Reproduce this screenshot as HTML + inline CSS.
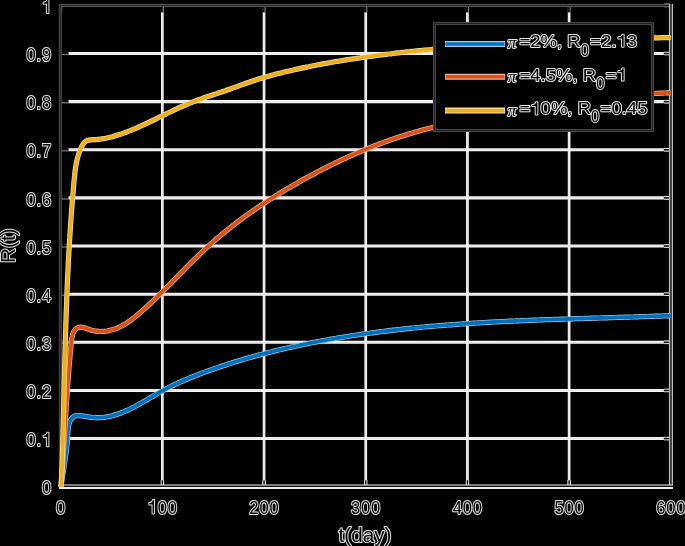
<!DOCTYPE html>
<html><head><meta charset="utf-8"><style>
html,body{margin:0;padding:0;background:#000;width:685px;height:546px;overflow:hidden}
svg{display:block;position:absolute;left:0;top:0}
.tx{filter:grayscale(1)}
.t{font-family:"Liberation Sans",sans-serif;font-size:18px;fill:#000;stroke:#e6e6e6;stroke-width:2px;paint-order:stroke fill;stroke-linejoin:round}
.lg{font-size:17.3px}
.ax{font-size:20.7px}
.pi{font-family:"Liberation Serif",serif;font-style:italic;font-size:16px}
.sub{font-size:15.3px}
.one{fill-opacity:0;stroke-opacity:0}
.onep{fill:#000;stroke:#e6e6e6;stroke-width:2px;paint-order:stroke fill;stroke-linejoin:round}
</style></head><body>
<svg width="685" height="546" viewBox="0 0 685 546">
<rect width="685" height="546" fill="#000"/>
<line x1="162.36" y1="6" x2="162.36" y2="486" stroke="#fafafa" stroke-width="2.7"/>
<line x1="162.36" y1="6" x2="162.36" y2="486" stroke="#e2e2e2" stroke-width="1.2"/>
<line x1="264.05" y1="6" x2="264.05" y2="486" stroke="#fafafa" stroke-width="2.7"/>
<line x1="264.05" y1="6" x2="264.05" y2="486" stroke="#e2e2e2" stroke-width="1.2"/>
<line x1="365.74" y1="6" x2="365.74" y2="486" stroke="#fafafa" stroke-width="2.7"/>
<line x1="365.74" y1="6" x2="365.74" y2="486" stroke="#e2e2e2" stroke-width="1.2"/>
<line x1="467.43" y1="6" x2="467.43" y2="486" stroke="#fafafa" stroke-width="2.7"/>
<line x1="467.43" y1="6" x2="467.43" y2="486" stroke="#e2e2e2" stroke-width="1.2"/>
<line x1="569.12" y1="6" x2="569.12" y2="486" stroke="#fafafa" stroke-width="2.7"/>
<line x1="569.12" y1="6" x2="569.12" y2="486" stroke="#e2e2e2" stroke-width="1.2"/>
<line x1="61" y1="438.57" x2="670" y2="438.57" stroke="#fafafa" stroke-width="3.1"/>
<line x1="61" y1="438.57" x2="670" y2="438.57" stroke="#e2e2e2" stroke-width="1.2"/>
<line x1="61" y1="390.44" x2="670" y2="390.44" stroke="#fafafa" stroke-width="3.1"/>
<line x1="61" y1="390.44" x2="670" y2="390.44" stroke="#e2e2e2" stroke-width="1.2"/>
<line x1="61" y1="342.31" x2="670" y2="342.31" stroke="#fafafa" stroke-width="3.1"/>
<line x1="61" y1="342.31" x2="670" y2="342.31" stroke="#e2e2e2" stroke-width="1.2"/>
<line x1="61" y1="294.18" x2="670" y2="294.18" stroke="#fafafa" stroke-width="3.1"/>
<line x1="61" y1="294.18" x2="670" y2="294.18" stroke="#e2e2e2" stroke-width="1.2"/>
<line x1="61" y1="246.05" x2="670" y2="246.05" stroke="#fafafa" stroke-width="3.1"/>
<line x1="61" y1="246.05" x2="670" y2="246.05" stroke="#e2e2e2" stroke-width="1.2"/>
<line x1="61" y1="197.92" x2="670" y2="197.92" stroke="#fafafa" stroke-width="3.1"/>
<line x1="61" y1="197.92" x2="670" y2="197.92" stroke="#e2e2e2" stroke-width="1.2"/>
<line x1="61" y1="149.79" x2="670" y2="149.79" stroke="#fafafa" stroke-width="3.1"/>
<line x1="61" y1="149.79" x2="670" y2="149.79" stroke="#e2e2e2" stroke-width="1.2"/>
<line x1="61" y1="101.66" x2="670" y2="101.66" stroke="#fafafa" stroke-width="3.1"/>
<line x1="61" y1="101.66" x2="670" y2="101.66" stroke="#e2e2e2" stroke-width="1.2"/>
<line x1="61" y1="53.53" x2="670" y2="53.53" stroke="#fafafa" stroke-width="3.1"/>
<line x1="61" y1="53.53" x2="670" y2="53.53" stroke="#e2e2e2" stroke-width="1.2"/>
<line x1="61.5" y1="486.70" x2="68.5" y2="486.70" stroke="#0c0c0c" stroke-width="3.8"/>
<line x1="61.5" y1="487.70" x2="68.5" y2="487.70" stroke="#777" stroke-width="1.1"/>
<line x1="664" y1="486.70" x2="669.5" y2="486.70" stroke="#e0e0e0" stroke-width="3.6"/>
<line x1="663.8" y1="486.70" x2="669.5" y2="486.70" stroke="#111" stroke-width="1.6"/>
<line x1="61.5" y1="438.57" x2="68.5" y2="438.57" stroke="#0c0c0c" stroke-width="3.8"/>
<line x1="61.5" y1="439.57" x2="68.5" y2="439.57" stroke="#777" stroke-width="1.1"/>
<line x1="664" y1="438.57" x2="669.5" y2="438.57" stroke="#e0e0e0" stroke-width="3.6"/>
<line x1="663.8" y1="438.57" x2="669.5" y2="438.57" stroke="#111" stroke-width="1.6"/>
<line x1="61.5" y1="390.44" x2="68.5" y2="390.44" stroke="#0c0c0c" stroke-width="3.8"/>
<line x1="61.5" y1="391.44" x2="68.5" y2="391.44" stroke="#777" stroke-width="1.1"/>
<line x1="664" y1="390.44" x2="669.5" y2="390.44" stroke="#e0e0e0" stroke-width="3.6"/>
<line x1="663.8" y1="390.44" x2="669.5" y2="390.44" stroke="#111" stroke-width="1.6"/>
<line x1="61.5" y1="342.31" x2="68.5" y2="342.31" stroke="#0c0c0c" stroke-width="3.8"/>
<line x1="61.5" y1="343.31" x2="68.5" y2="343.31" stroke="#777" stroke-width="1.1"/>
<line x1="664" y1="342.31" x2="669.5" y2="342.31" stroke="#e0e0e0" stroke-width="3.6"/>
<line x1="663.8" y1="342.31" x2="669.5" y2="342.31" stroke="#111" stroke-width="1.6"/>
<line x1="61.5" y1="294.18" x2="68.5" y2="294.18" stroke="#0c0c0c" stroke-width="3.8"/>
<line x1="61.5" y1="295.18" x2="68.5" y2="295.18" stroke="#777" stroke-width="1.1"/>
<line x1="664" y1="294.18" x2="669.5" y2="294.18" stroke="#e0e0e0" stroke-width="3.6"/>
<line x1="663.8" y1="294.18" x2="669.5" y2="294.18" stroke="#111" stroke-width="1.6"/>
<line x1="61.5" y1="246.05" x2="68.5" y2="246.05" stroke="#0c0c0c" stroke-width="3.8"/>
<line x1="61.5" y1="247.05" x2="68.5" y2="247.05" stroke="#777" stroke-width="1.1"/>
<line x1="664" y1="246.05" x2="669.5" y2="246.05" stroke="#e0e0e0" stroke-width="3.6"/>
<line x1="663.8" y1="246.05" x2="669.5" y2="246.05" stroke="#111" stroke-width="1.6"/>
<line x1="61.5" y1="197.92" x2="68.5" y2="197.92" stroke="#0c0c0c" stroke-width="3.8"/>
<line x1="61.5" y1="198.92" x2="68.5" y2="198.92" stroke="#777" stroke-width="1.1"/>
<line x1="664" y1="197.92" x2="669.5" y2="197.92" stroke="#e0e0e0" stroke-width="3.6"/>
<line x1="663.8" y1="197.92" x2="669.5" y2="197.92" stroke="#111" stroke-width="1.6"/>
<line x1="61.5" y1="149.79" x2="68.5" y2="149.79" stroke="#0c0c0c" stroke-width="3.8"/>
<line x1="61.5" y1="150.79" x2="68.5" y2="150.79" stroke="#777" stroke-width="1.1"/>
<line x1="664" y1="149.79" x2="669.5" y2="149.79" stroke="#e0e0e0" stroke-width="3.6"/>
<line x1="663.8" y1="149.79" x2="669.5" y2="149.79" stroke="#111" stroke-width="1.6"/>
<line x1="61.5" y1="101.66" x2="68.5" y2="101.66" stroke="#0c0c0c" stroke-width="3.8"/>
<line x1="61.5" y1="102.66" x2="68.5" y2="102.66" stroke="#777" stroke-width="1.1"/>
<line x1="664" y1="101.66" x2="669.5" y2="101.66" stroke="#e0e0e0" stroke-width="3.6"/>
<line x1="663.8" y1="101.66" x2="669.5" y2="101.66" stroke="#111" stroke-width="1.6"/>
<line x1="61.5" y1="53.53" x2="68.5" y2="53.53" stroke="#0c0c0c" stroke-width="3.8"/>
<line x1="61.5" y1="54.53" x2="68.5" y2="54.53" stroke="#777" stroke-width="1.1"/>
<line x1="664" y1="53.53" x2="669.5" y2="53.53" stroke="#e0e0e0" stroke-width="3.6"/>
<line x1="663.8" y1="53.53" x2="669.5" y2="53.53" stroke="#111" stroke-width="1.6"/>
<line x1="61.5" y1="5.40" x2="68.5" y2="5.40" stroke="#0c0c0c" stroke-width="3.8"/>
<line x1="61.5" y1="6.40" x2="68.5" y2="6.40" stroke="#777" stroke-width="1.1"/>
<line x1="664" y1="5.40" x2="669.5" y2="5.40" stroke="#e0e0e0" stroke-width="3.6"/>
<line x1="663.8" y1="5.40" x2="669.5" y2="5.40" stroke="#111" stroke-width="1.6"/>
<line x1="60.67" y1="6" x2="60.67" y2="12.3" stroke="#0c0c0c" stroke-width="3.6"/>
<line x1="61.67" y1="6" x2="61.67" y2="12.3" stroke="#777" stroke-width="1.1"/>
<line x1="60.67" y1="480" x2="60.67" y2="486" stroke="#e0e0e0" stroke-width="3.4"/>
<line x1="60.67" y1="480.2" x2="60.67" y2="486" stroke="#111" stroke-width="1.4"/>
<line x1="162.36" y1="6" x2="162.36" y2="12.3" stroke="#0c0c0c" stroke-width="3.6"/>
<line x1="163.36" y1="6" x2="163.36" y2="12.3" stroke="#777" stroke-width="1.1"/>
<line x1="162.36" y1="480" x2="162.36" y2="486" stroke="#e0e0e0" stroke-width="3.4"/>
<line x1="162.36" y1="480.2" x2="162.36" y2="486" stroke="#111" stroke-width="1.4"/>
<line x1="264.05" y1="6" x2="264.05" y2="12.3" stroke="#0c0c0c" stroke-width="3.6"/>
<line x1="265.05" y1="6" x2="265.05" y2="12.3" stroke="#777" stroke-width="1.1"/>
<line x1="264.05" y1="480" x2="264.05" y2="486" stroke="#e0e0e0" stroke-width="3.4"/>
<line x1="264.05" y1="480.2" x2="264.05" y2="486" stroke="#111" stroke-width="1.4"/>
<line x1="365.74" y1="6" x2="365.74" y2="12.3" stroke="#0c0c0c" stroke-width="3.6"/>
<line x1="366.74" y1="6" x2="366.74" y2="12.3" stroke="#777" stroke-width="1.1"/>
<line x1="365.74" y1="480" x2="365.74" y2="486" stroke="#e0e0e0" stroke-width="3.4"/>
<line x1="365.74" y1="480.2" x2="365.74" y2="486" stroke="#111" stroke-width="1.4"/>
<line x1="467.43" y1="6" x2="467.43" y2="12.3" stroke="#0c0c0c" stroke-width="3.6"/>
<line x1="468.43" y1="6" x2="468.43" y2="12.3" stroke="#777" stroke-width="1.1"/>
<line x1="467.43" y1="480" x2="467.43" y2="486" stroke="#e0e0e0" stroke-width="3.4"/>
<line x1="467.43" y1="480.2" x2="467.43" y2="486" stroke="#111" stroke-width="1.4"/>
<line x1="569.12" y1="6" x2="569.12" y2="12.3" stroke="#0c0c0c" stroke-width="3.6"/>
<line x1="570.12" y1="6" x2="570.12" y2="12.3" stroke="#777" stroke-width="1.1"/>
<line x1="569.12" y1="480" x2="569.12" y2="486" stroke="#e0e0e0" stroke-width="3.4"/>
<line x1="569.12" y1="480.2" x2="569.12" y2="486" stroke="#111" stroke-width="1.4"/>
<line x1="670.80" y1="6" x2="670.80" y2="12.3" stroke="#0c0c0c" stroke-width="3.6"/>
<line x1="671.80" y1="6" x2="671.80" y2="12.3" stroke="#777" stroke-width="1.1"/>
<line x1="670.80" y1="480" x2="670.80" y2="486" stroke="#e0e0e0" stroke-width="3.4"/>
<line x1="670.80" y1="480.2" x2="670.80" y2="486" stroke="#111" stroke-width="1.4"/>
<line x1="59" y1="5.5" x2="672" y2="5.5" stroke="#5a5a5a" stroke-width="3.2"/>
<line x1="59" y1="5.5" x2="672" y2="5.5" stroke="#1e1e1e" stroke-width="1.2"/>
<line x1="60.35" y1="4" x2="60.35" y2="487" stroke="#4a4a4a" stroke-width="3.1"/>
<line x1="60.35" y1="4" x2="60.35" y2="487" stroke="#262626" stroke-width="1.1"/>
<line x1="670.95" y1="4" x2="670.95" y2="489" stroke="#bdbdbd" stroke-width="4.1"/>
<line x1="670.95" y1="4" x2="670.95" y2="489" stroke="#3c3c3c" stroke-width="1.9"/>
<line x1="59" y1="486.8" x2="673" y2="486.8" stroke="#f0f0f0" stroke-width="4.4"/>
<line x1="59" y1="486.2" x2="673" y2="486.2" stroke="#111" stroke-width="1.4"/>
<path d="M60.9,486.7L61.1,485.0L61.4,483.3L61.7,481.5L62.0,479.8L62.2,478.1L62.5,476.4L62.8,474.7L63.1,473.0L63.3,471.3L63.6,469.7L63.9,468.0L64.1,466.3L64.4,464.6L64.6,463.0L64.9,461.3L65.1,459.6L65.4,458.0L65.6,456.3L65.8,454.6L66.1,452.9L66.3,451.2L66.5,449.5L66.7,447.8L66.8,446.1L67.0,444.4L67.2,442.7L67.3,440.9L67.4,439.2L67.5,437.4L67.6,435.6L67.7,433.8L67.8,432.1L68.0,430.3L68.1,428.5L68.4,426.8L68.7,425.1L69.2,423.4L69.7,421.8L70.5,420.3L71.3,418.9L72.3,417.7L73.5,416.7L74.8,416.0L76.3,415.6L77.9,415.5L79.6,415.6L81.4,415.8L83.2,416.1L85.0,416.4L86.8,416.7L88.6,416.9L90.3,417.2L92.1,417.4L93.8,417.5L95.5,417.6L97.2,417.6L98.9,417.6L100.6,417.6L102.3,417.5L104.0,417.3L105.6,417.1L107.3,416.8L109.0,416.5L110.6,416.2L112.3,415.8L113.9,415.3L115.5,414.8L117.2,414.3L118.8,413.8L120.4,413.2L122.0,412.5L123.6,411.9L125.2,411.2L126.8,410.5L128.4,409.8L130.0,409.0L131.5,408.2L133.1,407.5L134.6,406.7L136.2,405.8L137.7,405.0L139.2,404.2L140.7,403.3L142.2,402.5L143.7,401.6L145.2,400.7L146.7,399.9L148.2,399.0L149.7,398.1L151.1,397.3L152.6,396.4L154.1,395.5L155.6,394.7L157.0,393.8L158.5,393.0L160.0,392.1L161.5,391.3L163.0,390.5L164.5,389.7L166.0,388.9L167.5,388.1L169.0,387.3L170.6,386.6L172.1,385.8L173.6,385.1L175.2,384.3L176.7,383.6L178.3,382.9L179.9,382.2L181.4,381.5L183.0,380.8L184.6,380.1L186.1,379.5L187.7,378.8L189.3,378.1L190.9,377.5L192.5,376.8L194.1,376.2L195.7,375.6L197.3,375.0L198.9,374.3L200.5,373.7L202.1,373.1L203.8,372.5L205.4,371.9L207.0,371.3L208.6,370.8L210.2,370.2L211.9,369.6L213.5,369.0L215.1,368.5L216.7,367.9L218.4,367.4L220.0,366.8L221.6,366.3L223.3,365.7L224.9,365.2L226.5,364.6L228.2,364.1L229.8,363.6L231.4,363.1L233.1,362.6L234.7,362.0L236.4,361.5L238.0,361.0L239.7,360.5L241.3,360.0L243.0,359.6L244.6,359.1L246.3,358.6L247.9,358.1L249.6,357.6L251.2,357.2L252.9,356.7L254.5,356.2L256.2,355.8L257.8,355.3L259.5,354.9L261.2,354.4L262.8,354.0L264.5,353.6L266.2,353.1L267.8,352.7L269.5,352.3L271.1,351.9L272.8,351.4L274.5,351.0L276.2,350.6L277.8,350.2L279.5,349.8L281.2,349.4L282.8,349.0L284.5,348.6L286.2,348.2L287.9,347.8L289.5,347.5L291.2,347.1L292.9,346.7L294.6,346.3L296.2,346.0L297.9,345.6L299.6,345.3L301.3,344.9L303.0,344.6L304.6,344.2L306.3,343.9L308.0,343.5L309.7,343.2L311.4,342.8L313.1,342.5L314.7,342.2L316.4,341.9L318.1,341.5L319.8,341.2L321.5,340.9L323.2,340.6L324.9,340.3L326.6,340.0L328.2,339.7L329.9,339.4L331.6,339.1L333.3,338.8L335.0,338.5L336.7,338.2L338.4,337.9L340.1,337.6L341.8,337.3L343.5,337.1L345.2,336.8L346.9,336.5L348.6,336.3L350.2,336.0L351.9,335.7L353.6,335.5L355.3,335.2L357.0,335.0L358.7,334.7L360.4,334.5L362.1,334.2L363.8,334.0L365.5,333.7L367.2,333.5L368.9,333.3L370.6,333.0L372.3,332.8L374.0,332.6L375.7,332.4L377.4,332.1L379.1,331.9L380.8,331.7L382.5,331.5L384.2,331.3L385.9,331.1L387.6,330.9L389.3,330.7L391.1,330.4L392.8,330.2L394.5,330.1L396.2,329.9L397.9,329.7L399.6,329.5L401.3,329.3L403.0,329.1L404.7,328.9L406.4,328.7L408.1,328.6L409.8,328.4L411.5,328.2L413.2,328.0L414.9,327.9L416.7,327.7L418.4,327.5L420.1,327.4L421.8,327.2L423.5,327.0L425.2,326.9L426.9,326.7L428.6,326.6L430.3,326.4L432.1,326.3L433.8,326.1L435.5,326.0L437.2,325.8L438.9,325.7L440.6,325.6L442.3,325.4L444.0,325.3L445.8,325.1L447.5,325.0L449.2,324.9L450.9,324.8L452.6,324.6L454.3,324.5L456.0,324.4L457.7,324.3L459.5,324.1L461.2,324.0L462.9,323.9L464.6,323.8L466.3,323.7L468.0,323.5L469.8,323.4L471.5,323.3L473.2,323.2L474.9,323.1L476.6,323.0L478.3,322.9L480.1,322.8L481.8,322.7L483.5,322.6L485.2,322.5L486.9,322.4L488.6,322.3L490.4,322.2L492.1,322.1L493.8,322.0L495.5,321.9L497.2,321.8L499.0,321.8L500.7,321.7L502.4,321.6L504.1,321.5L505.8,321.4L507.5,321.3L509.3,321.2L511.0,321.2L512.7,321.1L514.4,321.0L516.1,320.9L517.9,320.8L519.6,320.8L521.3,320.7L523.0,320.6L524.7,320.6L526.5,320.5L528.2,320.4L529.9,320.3L531.6,320.3L533.3,320.2L535.1,320.1L536.8,320.1L538.5,320.0L540.2,319.9L541.9,319.9L543.7,319.8L545.4,319.7L547.1,319.7L548.8,319.6L550.5,319.6L552.2,319.5L554.0,319.4L555.7,319.4L557.4,319.3L559.1,319.3L560.8,319.2L562.6,319.1L564.3,319.1L566.0,319.0L567.7,319.0L569.4,318.9L571.2,318.9L572.9,318.8L574.6,318.7L576.3,318.7L578.0,318.6L579.8,318.6L581.5,318.5L583.2,318.5L584.9,318.4L586.6,318.4L588.3,318.3L590.1,318.3L591.8,318.2L593.5,318.2L595.2,318.1L596.9,318.1L598.7,318.0L600.4,318.0L602.1,317.9L603.8,317.9L605.5,317.8L607.2,317.8L609.0,317.7L610.7,317.6L612.4,317.6L614.1,317.5L615.8,317.5L617.5,317.4L619.3,317.4L621.0,317.3L622.7,317.3L624.4,317.2L626.1,317.2L627.8,317.1L629.5,317.1L631.3,317.0L633.0,317.0L634.7,316.9L636.4,316.9L638.1,316.8L639.8,316.7L641.5,316.7L643.3,316.6L645.0,316.6L646.7,316.5L648.4,316.5L650.1,316.4L651.8,316.4L653.5,316.3L655.2,316.2L657.0,316.2L658.7,316.1L660.4,316.1L662.1,316.0L663.8,315.9L665.5,315.9L667.2,315.8L668.9,315.7L670.7,315.9" fill="none" stroke="#9ccbee" stroke-width="5.2" stroke-linejoin="round"/>
<path d="M60.9,486.7L61.1,485.0L61.4,483.3L61.7,481.5L62.0,479.8L62.2,478.1L62.5,476.4L62.8,474.7L63.1,473.0L63.3,471.3L63.6,469.7L63.9,468.0L64.1,466.3L64.4,464.6L64.6,463.0L64.9,461.3L65.1,459.6L65.4,458.0L65.6,456.3L65.8,454.6L66.1,452.9L66.3,451.2L66.5,449.5L66.7,447.8L66.8,446.1L67.0,444.4L67.2,442.7L67.3,440.9L67.4,439.2L67.5,437.4L67.6,435.6L67.7,433.8L67.8,432.1L68.0,430.3L68.1,428.5L68.4,426.8L68.7,425.1L69.2,423.4L69.7,421.8L70.5,420.3L71.3,418.9L72.3,417.7L73.5,416.7L74.8,416.0L76.3,415.6L77.9,415.5L79.6,415.6L81.4,415.8L83.2,416.1L85.0,416.4L86.8,416.7L88.6,416.9L90.3,417.2L92.1,417.4L93.8,417.5L95.5,417.6L97.2,417.6L98.9,417.6L100.6,417.6L102.3,417.5L104.0,417.3L105.6,417.1L107.3,416.8L109.0,416.5L110.6,416.2L112.3,415.8L113.9,415.3L115.5,414.8L117.2,414.3L118.8,413.8L120.4,413.2L122.0,412.5L123.6,411.9L125.2,411.2L126.8,410.5L128.4,409.8L130.0,409.0L131.5,408.2L133.1,407.5L134.6,406.7L136.2,405.8L137.7,405.0L139.2,404.2L140.7,403.3L142.2,402.5L143.7,401.6L145.2,400.7L146.7,399.9L148.2,399.0L149.7,398.1L151.1,397.3L152.6,396.4L154.1,395.5L155.6,394.7L157.0,393.8L158.5,393.0L160.0,392.1L161.5,391.3L163.0,390.5L164.5,389.7L166.0,388.9L167.5,388.1L169.0,387.3L170.6,386.6L172.1,385.8L173.6,385.1L175.2,384.3L176.7,383.6L178.3,382.9L179.9,382.2L181.4,381.5L183.0,380.8L184.6,380.1L186.1,379.5L187.7,378.8L189.3,378.1L190.9,377.5L192.5,376.8L194.1,376.2L195.7,375.6L197.3,375.0L198.9,374.3L200.5,373.7L202.1,373.1L203.8,372.5L205.4,371.9L207.0,371.3L208.6,370.8L210.2,370.2L211.9,369.6L213.5,369.0L215.1,368.5L216.7,367.9L218.4,367.4L220.0,366.8L221.6,366.3L223.3,365.7L224.9,365.2L226.5,364.6L228.2,364.1L229.8,363.6L231.4,363.1L233.1,362.6L234.7,362.0L236.4,361.5L238.0,361.0L239.7,360.5L241.3,360.0L243.0,359.6L244.6,359.1L246.3,358.6L247.9,358.1L249.6,357.6L251.2,357.2L252.9,356.7L254.5,356.2L256.2,355.8L257.8,355.3L259.5,354.9L261.2,354.4L262.8,354.0L264.5,353.6L266.2,353.1L267.8,352.7L269.5,352.3L271.1,351.9L272.8,351.4L274.5,351.0L276.2,350.6L277.8,350.2L279.5,349.8L281.2,349.4L282.8,349.0L284.5,348.6L286.2,348.2L287.9,347.8L289.5,347.5L291.2,347.1L292.9,346.7L294.6,346.3L296.2,346.0L297.9,345.6L299.6,345.3L301.3,344.9L303.0,344.6L304.6,344.2L306.3,343.9L308.0,343.5L309.7,343.2L311.4,342.8L313.1,342.5L314.7,342.2L316.4,341.9L318.1,341.5L319.8,341.2L321.5,340.9L323.2,340.6L324.9,340.3L326.6,340.0L328.2,339.7L329.9,339.4L331.6,339.1L333.3,338.8L335.0,338.5L336.7,338.2L338.4,337.9L340.1,337.6L341.8,337.3L343.5,337.1L345.2,336.8L346.9,336.5L348.6,336.3L350.2,336.0L351.9,335.7L353.6,335.5L355.3,335.2L357.0,335.0L358.7,334.7L360.4,334.5L362.1,334.2L363.8,334.0L365.5,333.7L367.2,333.5L368.9,333.3L370.6,333.0L372.3,332.8L374.0,332.6L375.7,332.4L377.4,332.1L379.1,331.9L380.8,331.7L382.5,331.5L384.2,331.3L385.9,331.1L387.6,330.9L389.3,330.7L391.1,330.4L392.8,330.2L394.5,330.1L396.2,329.9L397.9,329.7L399.6,329.5L401.3,329.3L403.0,329.1L404.7,328.9L406.4,328.7L408.1,328.6L409.8,328.4L411.5,328.2L413.2,328.0L414.9,327.9L416.7,327.7L418.4,327.5L420.1,327.4L421.8,327.2L423.5,327.0L425.2,326.9L426.9,326.7L428.6,326.6L430.3,326.4L432.1,326.3L433.8,326.1L435.5,326.0L437.2,325.8L438.9,325.7L440.6,325.6L442.3,325.4L444.0,325.3L445.8,325.1L447.5,325.0L449.2,324.9L450.9,324.8L452.6,324.6L454.3,324.5L456.0,324.4L457.7,324.3L459.5,324.1L461.2,324.0L462.9,323.9L464.6,323.8L466.3,323.7L468.0,323.5L469.8,323.4L471.5,323.3L473.2,323.2L474.9,323.1L476.6,323.0L478.3,322.9L480.1,322.8L481.8,322.7L483.5,322.6L485.2,322.5L486.9,322.4L488.6,322.3L490.4,322.2L492.1,322.1L493.8,322.0L495.5,321.9L497.2,321.8L499.0,321.8L500.7,321.7L502.4,321.6L504.1,321.5L505.8,321.4L507.5,321.3L509.3,321.2L511.0,321.2L512.7,321.1L514.4,321.0L516.1,320.9L517.9,320.8L519.6,320.8L521.3,320.7L523.0,320.6L524.7,320.6L526.5,320.5L528.2,320.4L529.9,320.3L531.6,320.3L533.3,320.2L535.1,320.1L536.8,320.1L538.5,320.0L540.2,319.9L541.9,319.9L543.7,319.8L545.4,319.7L547.1,319.7L548.8,319.6L550.5,319.6L552.2,319.5L554.0,319.4L555.7,319.4L557.4,319.3L559.1,319.3L560.8,319.2L562.6,319.1L564.3,319.1L566.0,319.0L567.7,319.0L569.4,318.9L571.2,318.9L572.9,318.8L574.6,318.7L576.3,318.7L578.0,318.6L579.8,318.6L581.5,318.5L583.2,318.5L584.9,318.4L586.6,318.4L588.3,318.3L590.1,318.3L591.8,318.2L593.5,318.2L595.2,318.1L596.9,318.1L598.7,318.0L600.4,318.0L602.1,317.9L603.8,317.9L605.5,317.8L607.2,317.8L609.0,317.7L610.7,317.6L612.4,317.6L614.1,317.5L615.8,317.5L617.5,317.4L619.3,317.4L621.0,317.3L622.7,317.3L624.4,317.2L626.1,317.2L627.8,317.1L629.5,317.1L631.3,317.0L633.0,317.0L634.7,316.9L636.4,316.9L638.1,316.8L639.8,316.7L641.5,316.7L643.3,316.6L645.0,316.6L646.7,316.5L648.4,316.5L650.1,316.4L651.8,316.4L653.5,316.3L655.2,316.2L657.0,316.2L658.7,316.1L660.4,316.1L662.1,316.0L663.8,315.9L665.5,315.9L667.2,315.8L668.9,315.7L670.7,315.9" fill="none" stroke="#0072BD" stroke-width="3.8" stroke-linejoin="round"/>
<path d="M60.9,486.7L61.0,484.7L61.2,482.6L61.4,480.5L61.5,478.5L61.7,476.4L61.8,474.3L62.0,472.3L62.1,470.2L62.3,468.1L62.4,466.1L62.6,464.0L62.7,462.0L62.9,459.9L63.0,457.8L63.1,455.8L63.3,453.7L63.4,451.7L63.5,449.6L63.7,447.6L63.8,445.5L63.9,443.5L64.1,441.4L64.2,439.4L64.3,437.3L64.5,435.3L64.6,433.2L64.7,431.2L64.8,429.1L65.0,427.1L65.1,425.0L65.2,423.0L65.3,420.9L65.5,418.9L65.6,416.8L65.7,414.8L65.9,412.7L66.0,410.7L66.1,408.6L66.2,406.6L66.4,404.5L66.5,402.5L66.6,400.4L66.8,398.4L66.9,396.3L67.1,394.3L67.2,392.2L67.3,390.1L67.5,388.1L67.6,386.0L67.8,384.0L67.9,381.9L68.1,379.9L68.2,377.8L68.4,375.7L68.6,373.7L68.7,371.6L68.9,369.5L69.0,367.5L69.2,365.4L69.4,363.3L69.6,361.3L69.8,359.2L69.9,357.1L70.1,355.1L70.3,353.0L70.5,350.9L70.7,348.8L70.9,346.7L71.1,344.6L71.3,342.6L71.5,340.5L71.8,338.4L72.2,336.4L72.7,334.4L73.3,332.6L74.3,330.8L75.5,329.3L77.0,328.0L78.7,327.3L80.4,327.1L82.3,327.3L84.3,327.8L86.3,328.4L88.4,329.2L90.5,329.9L92.6,330.5L94.7,330.9L96.8,331.2L98.8,331.4L100.9,331.5L103.0,331.4L105.1,331.3L107.1,331.0L109.1,330.6L111.1,330.1L113.1,329.6L115.1,328.9L117.0,328.2L118.9,327.4L120.7,326.5L122.5,325.5L124.3,324.5L126.1,323.5L127.8,322.3L129.4,321.2L131.1,320.0L132.7,318.7L134.4,317.5L136.0,316.2L137.5,314.8L139.1,313.5L140.7,312.2L142.2,310.8L143.8,309.4L145.3,308.0L146.8,306.7L148.4,305.3L149.9,303.9L151.4,302.5L152.9,301.0L154.4,299.6L155.8,298.2L157.3,296.8L158.8,295.3L160.3,293.9L161.7,292.4L163.2,291.0L164.7,289.5L166.1,288.0L167.6,286.6L169.0,285.1L170.5,283.6L171.9,282.2L173.4,280.7L174.8,279.2L176.3,277.7L177.7,276.3L179.1,274.8L180.6,273.3L182.0,271.9L183.5,270.4L184.9,268.9L186.4,267.4L187.8,266.0L189.3,264.5L190.7,263.1L192.2,261.6L193.7,260.1L195.1,258.7L196.6,257.3L198.1,255.8L199.6,254.4L201.0,253.0L202.5,251.6L204.0,250.1L205.5,248.7L207.1,247.3L208.6,246.0L210.1,244.6L211.6,243.2L213.2,241.8L214.7,240.5L216.3,239.1L217.8,237.8L219.4,236.5L221.0,235.1L222.6,233.8L224.2,232.5L225.8,231.2L227.4,229.9L229.0,228.6L230.6,227.4L232.2,226.1L233.8,224.8L235.5,223.6L237.1,222.3L238.7,221.1L240.4,219.8L242.0,218.6L243.7,217.4L245.4,216.2L247.0,215.0L248.7,213.8L250.4,212.6L252.1,211.4L253.8,210.2L255.5,209.1L257.2,207.9L258.9,206.7L260.6,205.6L262.3,204.4L264.0,203.3L265.8,202.2L267.5,201.0L269.2,199.9L271.0,198.8L272.7,197.7L274.5,196.6L276.2,195.5L278.0,194.4L279.7,193.3L281.5,192.3L283.2,191.2L285.0,190.1L286.8,189.1L288.6,188.0L290.4,187.0L292.1,185.9L293.9,184.9L295.7,183.9L297.5,182.9L299.3,181.8L301.1,180.8L302.9,179.8L304.7,178.8L306.5,177.8L308.3,176.8L310.2,175.9L312.0,174.9L313.8,173.9L315.6,172.9L317.4,172.0L319.3,171.0L321.1,170.1L322.9,169.1L324.8,168.2L326.6,167.3L328.4,166.3L330.3,165.4L332.1,164.5L334.0,163.6L335.8,162.7L337.7,161.8L339.6,160.9L341.4,160.0L343.3,159.2L345.2,158.3L347.0,157.4L348.9,156.6L350.8,155.8L352.7,154.9L354.5,154.1L356.4,153.3L358.3,152.4L360.2,151.6L362.1,150.8L364.0,150.0L365.9,149.3L367.8,148.5L369.7,147.7L371.6,147.0L373.6,146.2L375.5,145.5L377.4,144.7L379.3,144.0L381.2,143.3L383.2,142.6L385.1,141.9L387.0,141.2L389.0,140.5L390.9,139.8L392.9,139.1L394.8,138.5L396.8,137.8L398.7,137.2L400.7,136.5L402.6,135.9L404.6,135.3L406.6,134.7L408.5,134.1L410.5,133.5L412.5,132.9L414.5,132.3L416.5,131.8L418.4,131.2L420.4,130.6L422.4,130.1L424.4,129.5L426.4,129.0L428.4,128.5L430.4,128.0L432.4,127.5L434.4,126.9L436.4,126.4L438.4,125.9L440.4,125.5L442.4,125.0L444.4,124.5L446.4,124.0L448.4,123.5L450.5,123.1L452.5,122.6L454.5,122.2L456.5,121.7L458.5,121.3L460.5,120.8L462.6,120.4L464.6,119.9L466.6,119.5L468.6,119.1L470.6,118.6L472.6,118.2L474.7,117.8L476.7,117.4L478.7,116.9L480.7,116.5L482.8,116.1L484.8,115.7L486.8,115.3L488.8,114.9L490.8,114.5L492.9,114.1L494.9,113.7L496.9,113.3L498.9,112.9L501.0,112.5L503.0,112.2L505.0,111.8L507.1,111.4L509.1,111.0L511.1,110.7L513.1,110.3L515.2,109.9L517.2,109.6L519.2,109.2L521.3,108.9L523.3,108.5L525.3,108.2L527.3,107.8L529.4,107.5L531.4,107.2L533.4,106.8L535.5,106.5L537.5,106.2L539.5,105.9L541.6,105.5L543.6,105.2L545.6,104.9L547.7,104.6L549.7,104.3L551.8,104.0L553.8,103.7L555.8,103.4L557.9,103.1L559.9,102.8L561.9,102.5L564.0,102.3L566.0,102.0L568.1,101.7L570.1,101.4L572.1,101.2L574.2,100.9L576.2,100.7L578.3,100.4L580.3,100.1L582.4,99.9L584.4,99.7L586.5,99.4L588.5,99.2L590.5,98.9L592.6,98.7L594.6,98.5L596.7,98.3L598.7,98.0L600.8,97.8L602.8,97.6L604.9,97.4L606.9,97.2L609.0,97.0L611.0,96.8L613.1,96.6L615.1,96.4L617.2,96.2L619.2,96.0L621.3,95.9L623.3,95.7L625.4,95.5L627.5,95.4L629.5,95.2L631.6,95.0L633.6,94.9L635.7,94.7L637.7,94.6L639.8,94.4L641.9,94.3L643.9,94.2L646.0,94.0L648.0,93.9L650.1,93.8L652.2,93.6L654.2,93.5L656.3,93.4L658.3,93.3L660.4,93.2L662.5,93.1L664.5,93.0L666.6,92.9L668.7,92.8L670.7,92.6" fill="none" stroke="#f4b497" stroke-width="5.2" stroke-linejoin="round"/>
<path d="M60.9,486.7L61.0,484.7L61.2,482.6L61.4,480.5L61.5,478.5L61.7,476.4L61.8,474.3L62.0,472.3L62.1,470.2L62.3,468.1L62.4,466.1L62.6,464.0L62.7,462.0L62.9,459.9L63.0,457.8L63.1,455.8L63.3,453.7L63.4,451.7L63.5,449.6L63.7,447.6L63.8,445.5L63.9,443.5L64.1,441.4L64.2,439.4L64.3,437.3L64.5,435.3L64.6,433.2L64.7,431.2L64.8,429.1L65.0,427.1L65.1,425.0L65.2,423.0L65.3,420.9L65.5,418.9L65.6,416.8L65.7,414.8L65.9,412.7L66.0,410.7L66.1,408.6L66.2,406.6L66.4,404.5L66.5,402.5L66.6,400.4L66.8,398.4L66.9,396.3L67.1,394.3L67.2,392.2L67.3,390.1L67.5,388.1L67.6,386.0L67.8,384.0L67.9,381.9L68.1,379.9L68.2,377.8L68.4,375.7L68.6,373.7L68.7,371.6L68.9,369.5L69.0,367.5L69.2,365.4L69.4,363.3L69.6,361.3L69.8,359.2L69.9,357.1L70.1,355.1L70.3,353.0L70.5,350.9L70.7,348.8L70.9,346.7L71.1,344.6L71.3,342.6L71.5,340.5L71.8,338.4L72.2,336.4L72.7,334.4L73.3,332.6L74.3,330.8L75.5,329.3L77.0,328.0L78.7,327.3L80.4,327.1L82.3,327.3L84.3,327.8L86.3,328.4L88.4,329.2L90.5,329.9L92.6,330.5L94.7,330.9L96.8,331.2L98.8,331.4L100.9,331.5L103.0,331.4L105.1,331.3L107.1,331.0L109.1,330.6L111.1,330.1L113.1,329.6L115.1,328.9L117.0,328.2L118.9,327.4L120.7,326.5L122.5,325.5L124.3,324.5L126.1,323.5L127.8,322.3L129.4,321.2L131.1,320.0L132.7,318.7L134.4,317.5L136.0,316.2L137.5,314.8L139.1,313.5L140.7,312.2L142.2,310.8L143.8,309.4L145.3,308.0L146.8,306.7L148.4,305.3L149.9,303.9L151.4,302.5L152.9,301.0L154.4,299.6L155.8,298.2L157.3,296.8L158.8,295.3L160.3,293.9L161.7,292.4L163.2,291.0L164.7,289.5L166.1,288.0L167.6,286.6L169.0,285.1L170.5,283.6L171.9,282.2L173.4,280.7L174.8,279.2L176.3,277.7L177.7,276.3L179.1,274.8L180.6,273.3L182.0,271.9L183.5,270.4L184.9,268.9L186.4,267.4L187.8,266.0L189.3,264.5L190.7,263.1L192.2,261.6L193.7,260.1L195.1,258.7L196.6,257.3L198.1,255.8L199.6,254.4L201.0,253.0L202.5,251.6L204.0,250.1L205.5,248.7L207.1,247.3L208.6,246.0L210.1,244.6L211.6,243.2L213.2,241.8L214.7,240.5L216.3,239.1L217.8,237.8L219.4,236.5L221.0,235.1L222.6,233.8L224.2,232.5L225.8,231.2L227.4,229.9L229.0,228.6L230.6,227.4L232.2,226.1L233.8,224.8L235.5,223.6L237.1,222.3L238.7,221.1L240.4,219.8L242.0,218.6L243.7,217.4L245.4,216.2L247.0,215.0L248.7,213.8L250.4,212.6L252.1,211.4L253.8,210.2L255.5,209.1L257.2,207.9L258.9,206.7L260.6,205.6L262.3,204.4L264.0,203.3L265.8,202.2L267.5,201.0L269.2,199.9L271.0,198.8L272.7,197.7L274.5,196.6L276.2,195.5L278.0,194.4L279.7,193.3L281.5,192.3L283.2,191.2L285.0,190.1L286.8,189.1L288.6,188.0L290.4,187.0L292.1,185.9L293.9,184.9L295.7,183.9L297.5,182.9L299.3,181.8L301.1,180.8L302.9,179.8L304.7,178.8L306.5,177.8L308.3,176.8L310.2,175.9L312.0,174.9L313.8,173.9L315.6,172.9L317.4,172.0L319.3,171.0L321.1,170.1L322.9,169.1L324.8,168.2L326.6,167.3L328.4,166.3L330.3,165.4L332.1,164.5L334.0,163.6L335.8,162.7L337.7,161.8L339.6,160.9L341.4,160.0L343.3,159.2L345.2,158.3L347.0,157.4L348.9,156.6L350.8,155.8L352.7,154.9L354.5,154.1L356.4,153.3L358.3,152.4L360.2,151.6L362.1,150.8L364.0,150.0L365.9,149.3L367.8,148.5L369.7,147.7L371.6,147.0L373.6,146.2L375.5,145.5L377.4,144.7L379.3,144.0L381.2,143.3L383.2,142.6L385.1,141.9L387.0,141.2L389.0,140.5L390.9,139.8L392.9,139.1L394.8,138.5L396.8,137.8L398.7,137.2L400.7,136.5L402.6,135.9L404.6,135.3L406.6,134.7L408.5,134.1L410.5,133.5L412.5,132.9L414.5,132.3L416.5,131.8L418.4,131.2L420.4,130.6L422.4,130.1L424.4,129.5L426.4,129.0L428.4,128.5L430.4,128.0L432.4,127.5L434.4,126.9L436.4,126.4L438.4,125.9L440.4,125.5L442.4,125.0L444.4,124.5L446.4,124.0L448.4,123.5L450.5,123.1L452.5,122.6L454.5,122.2L456.5,121.7L458.5,121.3L460.5,120.8L462.6,120.4L464.6,119.9L466.6,119.5L468.6,119.1L470.6,118.6L472.6,118.2L474.7,117.8L476.7,117.4L478.7,116.9L480.7,116.5L482.8,116.1L484.8,115.7L486.8,115.3L488.8,114.9L490.8,114.5L492.9,114.1L494.9,113.7L496.9,113.3L498.9,112.9L501.0,112.5L503.0,112.2L505.0,111.8L507.1,111.4L509.1,111.0L511.1,110.7L513.1,110.3L515.2,109.9L517.2,109.6L519.2,109.2L521.3,108.9L523.3,108.5L525.3,108.2L527.3,107.8L529.4,107.5L531.4,107.2L533.4,106.8L535.5,106.5L537.5,106.2L539.5,105.9L541.6,105.5L543.6,105.2L545.6,104.9L547.7,104.6L549.7,104.3L551.8,104.0L553.8,103.7L555.8,103.4L557.9,103.1L559.9,102.8L561.9,102.5L564.0,102.3L566.0,102.0L568.1,101.7L570.1,101.4L572.1,101.2L574.2,100.9L576.2,100.7L578.3,100.4L580.3,100.1L582.4,99.9L584.4,99.7L586.5,99.4L588.5,99.2L590.5,98.9L592.6,98.7L594.6,98.5L596.7,98.3L598.7,98.0L600.8,97.8L602.8,97.6L604.9,97.4L606.9,97.2L609.0,97.0L611.0,96.8L613.1,96.6L615.1,96.4L617.2,96.2L619.2,96.0L621.3,95.9L623.3,95.7L625.4,95.5L627.5,95.4L629.5,95.2L631.6,95.0L633.6,94.9L635.7,94.7L637.7,94.6L639.8,94.4L641.9,94.3L643.9,94.2L646.0,94.0L648.0,93.9L650.1,93.8L652.2,93.6L654.2,93.5L656.3,93.4L658.3,93.3L660.4,93.2L662.5,93.1L664.5,93.0L666.6,92.9L668.7,92.8L670.7,92.6" fill="none" stroke="#D95319" stroke-width="3.8" stroke-linejoin="round"/>
<path d="M60.9,486.7L61.4,484.3L61.5,482.0L61.6,479.6L61.7,477.2L61.7,474.9L61.8,472.5L61.9,470.1L62.0,467.7L62.1,465.4L62.1,463.0L62.2,460.6L62.3,458.2L62.4,455.9L62.4,453.5L62.5,451.1L62.6,448.7L62.6,446.4L62.7,444.0L62.8,441.6L62.8,439.3L62.9,436.9L63.0,434.5L63.0,432.1L63.1,429.8L63.2,427.4L63.2,425.0L63.3,422.6L63.3,420.2L63.4,417.9L63.5,415.5L63.5,413.1L63.6,410.7L63.6,408.4L63.7,406.0L63.8,403.6L63.8,401.2L63.9,398.9L63.9,396.5L64.0,394.1L64.1,391.7L64.1,389.4L64.2,387.0L64.2,384.6L64.3,382.2L64.3,379.8L64.4,377.5L64.5,375.1L64.5,372.7L64.6,370.3L64.6,368.0L64.7,365.6L64.8,363.2L64.8,360.8L64.9,358.5L64.9,356.1L65.0,353.7L65.1,351.3L65.1,348.9L65.2,346.6L65.3,344.2L65.3,341.8L65.4,339.4L65.5,337.1L65.5,334.7L65.6,332.3L65.7,329.9L65.8,327.6L65.8,325.2L65.9,322.8L66.0,320.4L66.1,318.0L66.1,315.7L66.2,313.3L66.3,310.9L66.4,308.5L66.5,306.2L66.6,303.8L66.7,301.4L66.7,299.0L66.8,296.7L66.9,294.3L67.0,291.9L67.1,289.5L67.2,287.2L67.3,284.8L67.4,282.4L67.5,280.1L67.6,277.7L67.7,275.3L67.8,272.9L68.0,270.6L68.1,268.2L68.2,265.8L68.3,263.4L68.4,261.1L68.5,258.7L68.7,256.3L68.8,254.0L68.9,251.6L69.1,249.2L69.2,246.9L69.3,244.5L69.5,242.1L69.6,239.7L69.8,237.4L69.9,235.0L70.1,232.6L70.2,230.3L70.4,227.9L70.5,225.5L70.7,223.2L70.9,220.8L71.0,218.4L71.2,216.1L71.4,213.7L71.5,211.3L71.7,209.0L71.9,206.6L72.1,204.2L72.3,201.9L72.5,199.5L72.7,197.1L72.9,194.7L73.1,192.4L73.3,190.0L73.5,187.6L73.7,185.2L73.9,182.8L74.1,180.5L74.3,178.1L74.6,175.7L74.8,173.3L75.1,170.9L75.4,168.6L75.8,166.2L76.2,163.9L76.7,161.5L77.2,159.2L77.8,156.9L78.5,154.7L79.2,152.4L80.1,150.2L81.0,148.0L82.0,145.9L83.2,143.9L84.7,142.2L86.4,140.9L88.5,140.1L90.9,139.8L93.4,139.7L95.9,139.6L98.4,139.3L100.8,139.0L103.2,138.7L105.6,138.3L107.9,137.8L110.2,137.2L112.5,136.7L114.8,136.0L117.0,135.3L119.3,134.6L121.5,133.9L123.7,133.1L125.9,132.3L128.1,131.4L130.3,130.6L132.5,129.7L134.7,128.8L136.8,127.9L139.0,126.9L141.2,125.9L143.3,124.9L145.5,123.9L147.6,122.9L149.8,121.9L151.9,120.9L154.1,119.8L156.2,118.8L158.3,117.7L160.5,116.7L162.6,115.6L164.8,114.6L166.9,113.5L169.1,112.5L171.2,111.5L173.4,110.4L175.5,109.4L177.7,108.4L179.9,107.4L182.0,106.5L184.2,105.5L186.4,104.6L188.6,103.6L190.8,102.7L193.0,101.9L195.2,101.0L197.4,100.2L199.7,99.4L201.9,98.6L204.1,97.8L206.4,97.0L208.6,96.3L210.9,95.5L213.1,94.8L215.4,94.1L217.6,93.3L219.9,92.6L222.2,91.8L224.4,91.1L226.6,90.3L228.9,89.5L231.1,88.7L233.3,87.9L235.6,87.1L237.8,86.3L240.0,85.4L242.2,84.6L244.5,83.8L246.7,83.0L249.0,82.3L251.2,81.5L253.5,80.7L255.7,80.0L258.0,79.3L260.2,78.6L262.5,77.9L264.8,77.2L267.1,76.6L269.4,75.9L271.7,75.3L274.0,74.7L276.2,74.1L278.6,73.5L280.9,72.9L283.2,72.3L285.5,71.8L287.8,71.2L290.1,70.7L292.4,70.2L294.8,69.6L297.1,69.1L299.4,68.6L301.7,68.1L304.1,67.6L306.4,67.1L308.7,66.7L311.0,66.2L313.4,65.7L315.7,65.3L318.0,64.8L320.4,64.4L322.7,63.9L325.1,63.5L327.4,63.1L329.7,62.7L332.1,62.3L334.4,61.8L336.8,61.4L339.1,61.1L341.4,60.7L343.8,60.3L346.1,59.9L348.5,59.5L350.8,59.2L353.2,58.8L355.5,58.5L357.9,58.1L360.2,57.8L362.6,57.4L364.9,57.1L367.3,56.8L369.6,56.4L372.0,56.1L374.3,55.8L376.7,55.5L379.1,55.2L381.4,54.9L383.8,54.6L386.1,54.3L388.5,54.0L390.8,53.8L393.2,53.5L395.6,53.2L397.9,52.9L400.3,52.7L402.6,52.4L405.0,52.2L407.4,51.9L409.7,51.7L412.1,51.4L414.5,51.2L416.8,50.9L419.2,50.7L421.6,50.5L423.9,50.2L426.3,50.0L428.7,49.8L431.0,49.6L433.4,49.3L435.8,49.1L438.1,48.9L440.5,48.7L442.9,48.5L445.2,48.3L447.6,48.1L450.0,47.9L452.3,47.7L454.7,47.5L457.1,47.3L459.4,47.1L461.8,46.9L464.2,46.8L466.5,46.6L468.9,46.4L471.3,46.2L473.7,46.0L476.0,45.9L478.4,45.7L480.8,45.5L483.1,45.3L485.5,45.2L487.9,45.0L490.3,44.8L492.6,44.7L495.0,44.5L497.4,44.3L499.7,44.2L502.1,44.0L504.5,43.9L506.9,43.7L509.2,43.6L511.6,43.4L514.0,43.3L516.3,43.1L518.7,43.0L521.1,42.8L523.5,42.7L525.8,42.6L528.2,42.4L530.6,42.3L532.9,42.2L535.3,42.0L537.7,41.9L540.1,41.8L542.4,41.6L544.8,41.5L547.2,41.4L549.6,41.3L551.9,41.2L554.3,41.0L556.7,40.9L559.1,40.8L561.4,40.7L563.8,40.6L566.2,40.5L568.6,40.4L570.9,40.3L573.3,40.2L575.7,40.1L578.0,40.0L580.4,39.9L582.8,39.8L585.2,39.7L587.5,39.6L589.9,39.5L592.3,39.4L594.7,39.3L597.0,39.3L599.4,39.2L601.8,39.1L604.2,39.0L606.5,38.9L608.9,38.9L611.3,38.8L613.7,38.7L616.0,38.7L618.4,38.6L620.8,38.5L623.2,38.5L625.6,38.4L627.9,38.4L630.3,38.3L632.7,38.2L635.1,38.2L637.4,38.1L639.8,38.1L642.2,38.0L644.6,38.0L646.9,38.0L649.3,37.9L651.7,37.9L654.1,37.8L656.4,37.8L658.8,37.8L661.2,37.7L663.6,37.7L665.9,37.7L668.3,37.7L670.7,37.6" fill="none" stroke="#f9e0a0" stroke-width="5.2" stroke-linejoin="round"/>
<path d="M60.9,486.7L61.4,484.3L61.5,482.0L61.6,479.6L61.7,477.2L61.7,474.9L61.8,472.5L61.9,470.1L62.0,467.7L62.1,465.4L62.1,463.0L62.2,460.6L62.3,458.2L62.4,455.9L62.4,453.5L62.5,451.1L62.6,448.7L62.6,446.4L62.7,444.0L62.8,441.6L62.8,439.3L62.9,436.9L63.0,434.5L63.0,432.1L63.1,429.8L63.2,427.4L63.2,425.0L63.3,422.6L63.3,420.2L63.4,417.9L63.5,415.5L63.5,413.1L63.6,410.7L63.6,408.4L63.7,406.0L63.8,403.6L63.8,401.2L63.9,398.9L63.9,396.5L64.0,394.1L64.1,391.7L64.1,389.4L64.2,387.0L64.2,384.6L64.3,382.2L64.3,379.8L64.4,377.5L64.5,375.1L64.5,372.7L64.6,370.3L64.6,368.0L64.7,365.6L64.8,363.2L64.8,360.8L64.9,358.5L64.9,356.1L65.0,353.7L65.1,351.3L65.1,348.9L65.2,346.6L65.3,344.2L65.3,341.8L65.4,339.4L65.5,337.1L65.5,334.7L65.6,332.3L65.7,329.9L65.8,327.6L65.8,325.2L65.9,322.8L66.0,320.4L66.1,318.0L66.1,315.7L66.2,313.3L66.3,310.9L66.4,308.5L66.5,306.2L66.6,303.8L66.7,301.4L66.7,299.0L66.8,296.7L66.9,294.3L67.0,291.9L67.1,289.5L67.2,287.2L67.3,284.8L67.4,282.4L67.5,280.1L67.6,277.7L67.7,275.3L67.8,272.9L68.0,270.6L68.1,268.2L68.2,265.8L68.3,263.4L68.4,261.1L68.5,258.7L68.7,256.3L68.8,254.0L68.9,251.6L69.1,249.2L69.2,246.9L69.3,244.5L69.5,242.1L69.6,239.7L69.8,237.4L69.9,235.0L70.1,232.6L70.2,230.3L70.4,227.9L70.5,225.5L70.7,223.2L70.9,220.8L71.0,218.4L71.2,216.1L71.4,213.7L71.5,211.3L71.7,209.0L71.9,206.6L72.1,204.2L72.3,201.9L72.5,199.5L72.7,197.1L72.9,194.7L73.1,192.4L73.3,190.0L73.5,187.6L73.7,185.2L73.9,182.8L74.1,180.5L74.3,178.1L74.6,175.7L74.8,173.3L75.1,170.9L75.4,168.6L75.8,166.2L76.2,163.9L76.7,161.5L77.2,159.2L77.8,156.9L78.5,154.7L79.2,152.4L80.1,150.2L81.0,148.0L82.0,145.9L83.2,143.9L84.7,142.2L86.4,140.9L88.5,140.1L90.9,139.8L93.4,139.7L95.9,139.6L98.4,139.3L100.8,139.0L103.2,138.7L105.6,138.3L107.9,137.8L110.2,137.2L112.5,136.7L114.8,136.0L117.0,135.3L119.3,134.6L121.5,133.9L123.7,133.1L125.9,132.3L128.1,131.4L130.3,130.6L132.5,129.7L134.7,128.8L136.8,127.9L139.0,126.9L141.2,125.9L143.3,124.9L145.5,123.9L147.6,122.9L149.8,121.9L151.9,120.9L154.1,119.8L156.2,118.8L158.3,117.7L160.5,116.7L162.6,115.6L164.8,114.6L166.9,113.5L169.1,112.5L171.2,111.5L173.4,110.4L175.5,109.4L177.7,108.4L179.9,107.4L182.0,106.5L184.2,105.5L186.4,104.6L188.6,103.6L190.8,102.7L193.0,101.9L195.2,101.0L197.4,100.2L199.7,99.4L201.9,98.6L204.1,97.8L206.4,97.0L208.6,96.3L210.9,95.5L213.1,94.8L215.4,94.1L217.6,93.3L219.9,92.6L222.2,91.8L224.4,91.1L226.6,90.3L228.9,89.5L231.1,88.7L233.3,87.9L235.6,87.1L237.8,86.3L240.0,85.4L242.2,84.6L244.5,83.8L246.7,83.0L249.0,82.3L251.2,81.5L253.5,80.7L255.7,80.0L258.0,79.3L260.2,78.6L262.5,77.9L264.8,77.2L267.1,76.6L269.4,75.9L271.7,75.3L274.0,74.7L276.2,74.1L278.6,73.5L280.9,72.9L283.2,72.3L285.5,71.8L287.8,71.2L290.1,70.7L292.4,70.2L294.8,69.6L297.1,69.1L299.4,68.6L301.7,68.1L304.1,67.6L306.4,67.1L308.7,66.7L311.0,66.2L313.4,65.7L315.7,65.3L318.0,64.8L320.4,64.4L322.7,63.9L325.1,63.5L327.4,63.1L329.7,62.7L332.1,62.3L334.4,61.8L336.8,61.4L339.1,61.1L341.4,60.7L343.8,60.3L346.1,59.9L348.5,59.5L350.8,59.2L353.2,58.8L355.5,58.5L357.9,58.1L360.2,57.8L362.6,57.4L364.9,57.1L367.3,56.8L369.6,56.4L372.0,56.1L374.3,55.8L376.7,55.5L379.1,55.2L381.4,54.9L383.8,54.6L386.1,54.3L388.5,54.0L390.8,53.8L393.2,53.5L395.6,53.2L397.9,52.9L400.3,52.7L402.6,52.4L405.0,52.2L407.4,51.9L409.7,51.7L412.1,51.4L414.5,51.2L416.8,50.9L419.2,50.7L421.6,50.5L423.9,50.2L426.3,50.0L428.7,49.8L431.0,49.6L433.4,49.3L435.8,49.1L438.1,48.9L440.5,48.7L442.9,48.5L445.2,48.3L447.6,48.1L450.0,47.9L452.3,47.7L454.7,47.5L457.1,47.3L459.4,47.1L461.8,46.9L464.2,46.8L466.5,46.6L468.9,46.4L471.3,46.2L473.7,46.0L476.0,45.9L478.4,45.7L480.8,45.5L483.1,45.3L485.5,45.2L487.9,45.0L490.3,44.8L492.6,44.7L495.0,44.5L497.4,44.3L499.7,44.2L502.1,44.0L504.5,43.9L506.9,43.7L509.2,43.6L511.6,43.4L514.0,43.3L516.3,43.1L518.7,43.0L521.1,42.8L523.5,42.7L525.8,42.6L528.2,42.4L530.6,42.3L532.9,42.2L535.3,42.0L537.7,41.9L540.1,41.8L542.4,41.6L544.8,41.5L547.2,41.4L549.6,41.3L551.9,41.2L554.3,41.0L556.7,40.9L559.1,40.8L561.4,40.7L563.8,40.6L566.2,40.5L568.6,40.4L570.9,40.3L573.3,40.2L575.7,40.1L578.0,40.0L580.4,39.9L582.8,39.8L585.2,39.7L587.5,39.6L589.9,39.5L592.3,39.4L594.7,39.3L597.0,39.3L599.4,39.2L601.8,39.1L604.2,39.0L606.5,38.9L608.9,38.9L611.3,38.8L613.7,38.7L616.0,38.7L618.4,38.6L620.8,38.5L623.2,38.5L625.6,38.4L627.9,38.4L630.3,38.3L632.7,38.2L635.1,38.2L637.4,38.1L639.8,38.1L642.2,38.0L644.6,38.0L646.9,38.0L649.3,37.9L651.7,37.9L654.1,37.8L656.4,37.8L658.8,37.8L661.2,37.7L663.6,37.7L665.9,37.7L668.3,37.7L670.7,37.6" fill="none" stroke="#EDB120" stroke-width="3.8" stroke-linejoin="round"/>
<rect x="434.5" y="23.6" width="218" height="106.9" fill="#000" stroke="#4a4a4a" stroke-width="3"/>
<rect x="434.5" y="23.6" width="218" height="106.9" fill="none" stroke="#222" stroke-width="1.1"/>
<line x1="445" y1="44.0" x2="505" y2="44.0" stroke="#9ccbee" stroke-width="6"/>
<line x1="445.6" y1="44.0" x2="504.4" y2="44.0" stroke="#0072BD" stroke-width="3.6"/>
<line x1="445" y1="76.8" x2="505" y2="76.8" stroke="#f4b497" stroke-width="6"/>
<line x1="445.6" y1="76.8" x2="504.4" y2="76.8" stroke="#D95319" stroke-width="3.6"/>
<line x1="445" y1="110.6" x2="505" y2="110.6" stroke="#f9e0a0" stroke-width="6"/>
<line x1="445.6" y1="110.6" x2="504.4" y2="110.6" stroke="#EDB120" stroke-width="3.6"/>
</svg>
<svg class="tx" width="685" height="546" viewBox="0 0 685 546">
<text class="t pi" transform="translate(507.8,48.199999999999996) scale(1.07,1)">π</text>
<text class="t lg" transform="translate(519.5,46.8) scale(1.07,1)">=2%, R</text>
<text class="t sub" transform="translate(580.72,55.70) scale(0.96,1.12)">0</text>
<text class="t lg" transform="translate(590.32,46.8) scale(1.07,1)">=2.<tspan class="one">1</tspan>3</text>
<text class="t pi" transform="translate(507.8,82.0) scale(1.07,1)">π</text>
<text class="t lg" transform="translate(519.5,80.6) scale(1.07,1)">=4.5%, R</text>
<text class="t sub" transform="translate(596.16,88.50) scale(0.96,1.12)">0</text>
<text class="t lg" transform="translate(605.76,80.6) scale(1.07,1)">=<tspan class="one">1</tspan></text>
<text class="t pi" transform="translate(507.8,115.80000000000001) scale(1.07,1)">π</text>
<text class="t lg" transform="translate(519.5,114.4) scale(1.07,1)">=<tspan class="one">1</tspan>0%, R</text>
<text class="t sub" transform="translate(591.01,122.00) scale(0.96,1.12)">0</text>
<text class="t lg" transform="translate(600.61,114.4) scale(1.07,1)">=0.45</text>
<text class="t" transform="translate(52.1,494.3) scale(0.92,1.065)" text-anchor="end" letter-spacing="0.9">0</text>
<text class="t" transform="translate(52.1,446.2) scale(0.92,1.065)" text-anchor="end" letter-spacing="0.9">0.<tspan class="one">1</tspan></text>
<text class="t" transform="translate(52.1,398.0) scale(0.92,1.065)" text-anchor="end" letter-spacing="0.9">0.2</text>
<text class="t" transform="translate(52.1,349.9) scale(0.92,1.065)" text-anchor="end" letter-spacing="0.9">0.3</text>
<text class="t" transform="translate(52.1,301.8) scale(0.92,1.065)" text-anchor="end" letter-spacing="0.9">0.4</text>
<text class="t" transform="translate(52.1,253.6) scale(0.92,1.065)" text-anchor="end" letter-spacing="0.9">0.5</text>
<text class="t" transform="translate(52.1,205.5) scale(0.92,1.065)" text-anchor="end" letter-spacing="0.9">0.6</text>
<text class="t" transform="translate(52.1,157.4) scale(0.92,1.065)" text-anchor="end" letter-spacing="0.9">0.7</text>
<text class="t" transform="translate(52.1,109.3) scale(0.92,1.065)" text-anchor="end" letter-spacing="0.9">0.8</text>
<text class="t" transform="translate(52.1,61.1) scale(0.92,1.065)" text-anchor="end" letter-spacing="0.9">0.9</text>
<text class="t" transform="translate(52.1,13.0) scale(0.92,1.065)" text-anchor="end" letter-spacing="0.9"><tspan class="one">1</tspan></text>
<text class="t" transform="translate(61.1,513.6) scale(0.92,1.065)" text-anchor="middle" letter-spacing="0.9">0</text>
<text class="t" transform="translate(162.8,513.6) scale(0.92,1.065)" text-anchor="middle" letter-spacing="0.9"><tspan class="one">1</tspan>00</text>
<text class="t" transform="translate(264.4,513.6) scale(0.92,1.065)" text-anchor="middle" letter-spacing="0.9">200</text>
<text class="t" transform="translate(366.1,513.6) scale(0.92,1.065)" text-anchor="middle" letter-spacing="0.9">300</text>
<text class="t" transform="translate(467.8,513.6) scale(0.92,1.065)" text-anchor="middle" letter-spacing="0.9">400</text>
<text class="t" transform="translate(569.5,513.6) scale(0.92,1.065)" text-anchor="middle" letter-spacing="0.9">500</text>
<text class="t" transform="translate(671.2,513.6) scale(0.92,1.065)" text-anchor="middle" letter-spacing="0.9">600</text>
<text class="t ax" x="365" y="541.9" text-anchor="middle">t(day)</text>
<text class="t ax" transform="translate(15.1,245.7) rotate(-90)" text-anchor="middle">R(t)</text>
<path class="onep" vector-effect="non-scaling-stroke" transform="matrix(1.0700,0.0000,0.0000,1.0000,590.32,46.80) translate(24.52,0.00) scale(0.01730,-0.01730)" d="M382,0 L290,0 L290,480 L95,480 L95,548 C190,556 236,580 262,608 C284,632 302,666 310,703 L382,703 Z"/>
<path class="onep" vector-effect="non-scaling-stroke" transform="matrix(1.0700,0.0000,0.0000,1.0000,605.76,80.60) translate(10.11,0.00) scale(0.01730,-0.01730)" d="M382,0 L290,0 L290,480 L95,480 L95,548 C190,556 236,580 262,608 C284,632 302,666 310,703 L382,703 Z"/>
<path class="onep" vector-effect="non-scaling-stroke" transform="matrix(1.0700,0.0000,0.0000,1.0000,519.50,114.40) translate(10.11,0.00) scale(0.01730,-0.01730)" d="M382,0 L290,0 L290,480 L95,480 L95,548 C190,556 236,580 262,608 C284,632 302,666 310,703 L382,703 Z"/>
<path class="onep" vector-effect="non-scaling-stroke" transform="matrix(0.9200,0.0000,0.0000,1.0650,52.10,446.20) translate(-10.91,0.00) scale(0.01800,-0.01800)" d="M382,0 L290,0 L290,480 L95,480 L95,548 C190,556 236,580 262,608 C284,632 302,666 310,703 L382,703 Z"/>
<path class="onep" vector-effect="non-scaling-stroke" transform="matrix(0.9200,0.0000,0.0000,1.0650,52.10,13.00) translate(-10.91,0.00) scale(0.01800,-0.01800)" d="M382,0 L290,0 L290,480 L95,480 L95,548 C190,556 236,580 262,608 C284,632 302,666 310,703 L382,703 Z"/>
<path class="onep" vector-effect="non-scaling-stroke" transform="matrix(0.9200,0.0000,0.0000,1.0650,162.80,513.60) translate(-16.37,0.00) scale(0.01800,-0.01800)" d="M382,0 L290,0 L290,480 L95,480 L95,548 C190,556 236,580 262,608 C284,632 302,666 310,703 L382,703 Z"/>
</svg>
</body></html>
